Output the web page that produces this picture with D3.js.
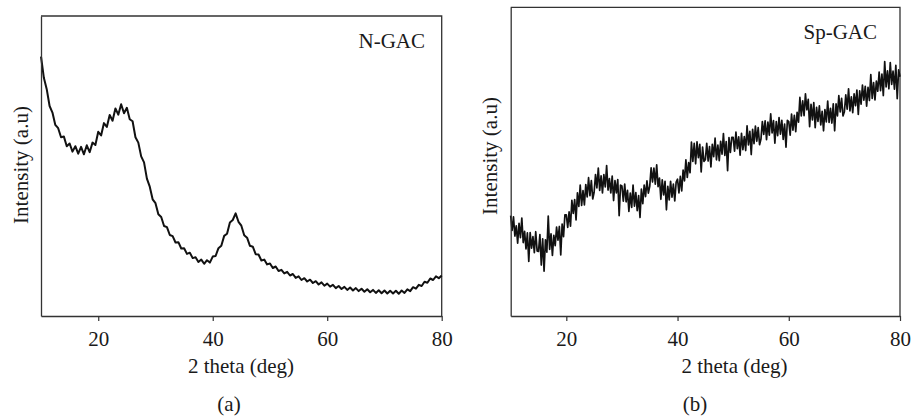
<!DOCTYPE html>
<html>
<head>
<meta charset="utf-8">
<script src="https://cdn.jsdelivr.net/npm/d3@7"></script>
<style>
  body { margin: 0; background: #fff; }
  text { font-family: "Liberation Serif", serif; }
</style>
</head>
<body>
<script>
// XRD scans (intensity in arbitrary units 0-100)
var xStart = 10;
var xEnd = 80;
var stepA = 0.5;   // N-GAC sampled every 0.5 deg
var stepB = 0.25;  // Sp-GAC sampled every 0.25 deg
var tickLabels = [20, 40, 60, 80];

var nGac = [
  86.5, 79.4, 75.6, 70.0, 67.8, 63.7, 62.6, 59.6, 59.8, 56.6,
  57.5, 54.8, 56.6, 54.1, 56.4, 53.9, 56.9, 54.6, 57.8, 57.0,
  61.4, 60.2, 64.3, 63.0, 67.0, 65.1, 69.2, 67.1, 70.6, 67.6,
  69.4, 65.6, 64.9, 59.6, 57.8, 53.2, 51.2, 45.8, 43.1, 38.9,
  37.6, 33.9, 33.0, 30.0, 29.6, 27.0, 26.6, 24.5, 24.6, 22.5,
  22.6, 20.7, 21.1, 19.3, 19.6, 18.0, 18.8, 17.4, 18.6, 17.8,
  19.8, 20.0, 22.6, 23.4, 26.7, 27.4, 31.2, 32.0, 34.2, 31.4,
  30.1, 26.9, 26.1, 23.4, 23.1, 20.6, 20.5, 18.5, 18.8, 17.2,
  17.5, 16.0, 16.5, 15.0, 15.4, 14.2, 14.7, 13.5, 14.0, 12.7,
  13.2, 12.0, 12.6, 11.5, 12.1, 11.0, 11.6, 10.5, 11.2, 10.1,
  10.8, 9.8, 10.4, 9.3, 10.0, 9.0, 9.7, 8.7, 9.5, 8.5,
  9.3, 8.3, 9.1, 8.1, 8.9, 7.9, 8.7, 7.7, 8.6, 7.6,
  8.5, 7.5, 8.4, 7.5, 8.4, 7.4, 8.5, 7.7, 8.9, 8.3,
  9.6, 9.1, 10.4, 10.0, 11.4, 11.1, 12.5, 12.0, 13.2, 12.6,
  13.5
];

var spGac = [
  32.5, 27.7, 32.1, 25.9, 29.2, 23.6, 30.0, 25.4, 31.7, 23.8, 27.4, 21.7, 26.9, 17.7, 27.0, 22.0, 25.7, 20.5, 27.3, 21.1,
  20.9, 26.4, 16.5, 25.0, 14.5, 24.7, 20.7, 32.4, 21.6, 26.6, 19.6, 26.1, 22.8, 28.8, 24.6, 29.0, 19.8, 29.8, 25.7, 32.8,
  32.8, 28.7, 33.7, 29.1, 37.5, 33.2, 37.7, 31.1, 39.9, 35.5, 42.4, 35.8, 40.6, 36.0, 42.6, 38.6, 44.8, 39.0, 43.9, 37.9,
  40.1, 45.8, 41.5, 47.9, 40.7, 45.4, 39.9, 45.8, 41.8, 48.7, 40.8, 44.5, 39.9, 45.3, 37.4, 43.9, 39.9, 44.2, 32.5, 42.4,
  42.1, 37.2, 42.7, 37.0, 40.7, 33.9, 39.8, 35.2, 42.4, 35.6, 40.0, 34.1, 39.0, 31.9, 41.1, 36.4, 42.4, 38.7, 43.8, 39.8,
  42.0, 48.0, 43.4, 47.9, 42.7, 49.0, 41.9, 44.7, 37.8, 44.1, 39.2, 43.6, 34.4, 42.0, 37.6, 43.6, 38.5, 42.7, 37.3, 43.4,
  44.3, 39.9, 45.2, 40.5, 47.3, 43.8, 50.6, 44.9, 49.7, 46.4, 56.3, 50.1, 55.9, 49.3, 56.4, 51.3, 55.6, 46.7, 54.7, 50.1,
  50.6, 55.9, 50.2, 54.9, 48.3, 55.6, 51.6, 57.6, 50.6, 55.4, 50.3, 56.6, 52.4, 59.1, 52.0, 56.5, 47.1, 57.8, 53.0, 57.9,
  57.9, 53.4, 59.6, 54.2, 58.0, 52.1, 59.2, 53.9, 58.1, 53.6, 61.6, 55.4, 59.8, 52.3, 60.5, 55.8, 61.5, 56.6, 61.0, 55.5,
  57.3, 63.0, 58.8, 63.2, 57.1, 62.8, 58.6, 65.5, 59.3, 63.3, 56.0, 63.0, 58.4, 64.3, 58.9, 63.4, 57.2, 62.2, 54.7, 63.4,
  63.0, 58.6, 65.4, 60.2, 65.0, 59.7, 66.0, 62.8, 70.8, 64.8, 69.7, 64.9, 72.0, 66.8, 70.2, 61.3, 68.6, 63.5, 69.1, 61.0,
  67.6, 63.0, 68.1, 61.9, 66.3, 60.0, 66.9, 62.9, 69.6, 62.7, 67.3, 62.5, 68.7, 60.0, 68.7, 64.8, 71.4, 66.1, 70.5, 64.8,
  66.2, 71.6, 67.0, 73.6, 66.4, 71.0, 65.9, 72.0, 68.1, 73.2, 65.3, 72.9, 68.6, 74.8, 69.9, 74.4, 68.0, 74.1, 69.8, 78.2,
  70.5, 75.6, 70.0, 76.1, 72.8, 79.0, 73.0, 78.4, 71.4, 82.4, 74.2, 79.4, 73.6, 82.1, 75.0, 79.3, 73.5, 81.2, 70.4, 79.7,
  77.5
];

var text_col = "#1a1a1a";
var axis_col = "#333";
var fontSize = "21px";

var svg = d3.select("body")
  .append("svg")
  .attr("width", 914)
  .attr("height", 417)
  .style("display", "block")
  .style("background", "#fff");

// panel layout (pixel boxes)
var panels = [
  { data: nGac, step: stepA, name: "N-GAC", letter: "(a)",
    left: 41, right: 441.7, top: 16, bottom: 316,
    nameX: 425, nameY: 47.5, ylabX: 28, ylabY: 165, xlabX: 241, letterX: 229,
    lineW: 2, lineCol: "#111" },
  { data: spGac, step: stepB, name: "Sp-GAC", letter: "(b)",
    left: 510.7, right: 900, top: 7.3, bottom: 316,
    nameX: 877, nameY: 38.5, ylabX: 497, ylabY: 156, xlabX: 734.5, letterX: 695,
    lineW: 1.7, lineCol: "#111" }
];

panels.forEach(drawPanel);

function drawPanel(p) {
  var x = d3.scaleLinear().domain([xStart, xEnd]).range([p.left, p.right]);
  var y = d3.scaleLinear().domain([0, 100]).range([p.bottom, p.top]);

  var g = svg.append("g");

  // frame: top + right edges
  g.append("path")
    .attr("d", "M" + x(xStart) + "," + y(100) + "H" + x(xEnd) + "V" + y(0))
    .style("fill", "none")
    .style("stroke", axis_col)
    .style("stroke-width", 1.3);

  // the scan
  var line = d3.line()
    .x(function (d, i) { return x(xStart + i * p.step); })
    .y(function (d) { return y(d); });

  g.append("path")
    .datum(p.data)
    .attr("d", line)
    .style("fill", "none")
    .style("stroke", p.lineCol)
    .style("stroke-width", p.lineW)
    .style("stroke-linejoin", "round");

  // bottom axis
  var xa = g.append("g")
    .attr("transform", "translate(0," + p.bottom + ")")
    .call(d3.axisBottom(x).tickValues(tickLabels).tickSize(5).tickSizeOuter(0).tickPadding(10));

  // left axis, no ticks
  var ya = g.append("g")
    .attr("transform", "translate(" + p.left + ",0)")
    .call(d3.axisLeft(y).tickValues([]).tickSizeOuter(0));

  [xa, ya].forEach(function (a) {
    a.attr("font-family", null).attr("font-size", null);
    a.select(".domain").style("stroke", axis_col).style("stroke-width", 1.3);
    a.selectAll(".tick line").style("stroke", axis_col).style("stroke-width", 1.2);
    a.selectAll("text")
      .style("font-size", fontSize)
      .style("fill", text_col);
  });

  // sample name
  g.append("text")
    .text(p.name)
    .attr("x", p.nameX)
    .attr("y", p.nameY)
    .attr("text-anchor", "end")
    .style("font-size", fontSize)
    .style("fill", text_col);

  // y title
  g.append("text")
    .text("Intensity (a.u)")
    .attr("transform", "translate(" + p.ylabX + "," + p.ylabY + ") rotate(-90)")
    .attr("text-anchor", "middle")
    .style("font-size", fontSize)
    .style("fill", text_col);

  // x title
  g.append("text")
    .text("2 theta (deg)")
    .attr("x", p.xlabX)
    .attr("y", 373)
    .attr("text-anchor", "middle")
    .style("font-size", fontSize)
    .style("fill", text_col);

  // panel letter
  g.append("text")
    .text(p.letter)
    .attr("x", p.letterX)
    .attr("y", 411)
    .attr("text-anchor", "middle")
    .style("font-size", fontSize)
    .style("fill", text_col);
}
</script>
</body>
</html>
